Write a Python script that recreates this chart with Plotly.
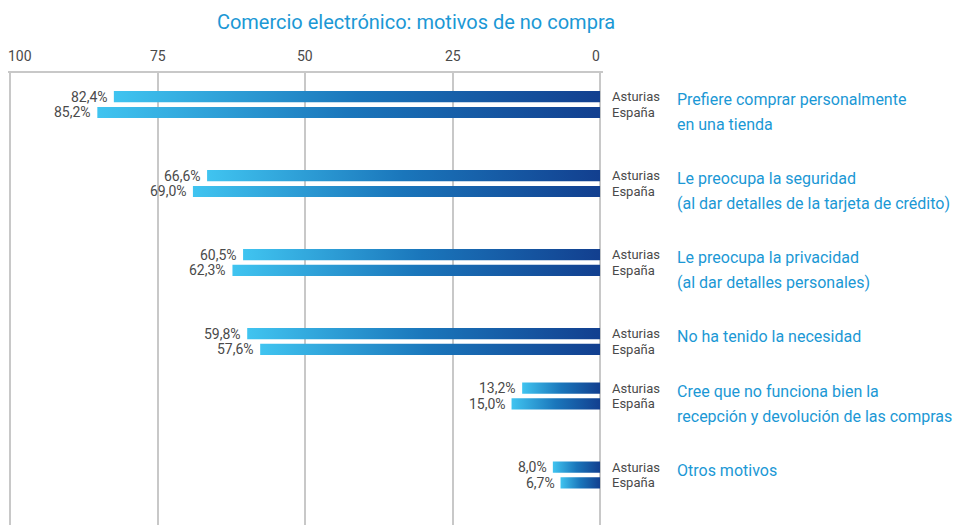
import plotly.graph_objects as go

# ---- data ----
categories = [
    "Prefiere comprar personalmente<br>en una tienda",
    "Le preocupa la seguridad<br>(al dar detalles de la tarjeta de crédito)",
    "Le preocupa la privacidad<br>(al dar detalles personales)",
    "No ha tenido la necesidad",
    "Cree que no funciona bien la<br>recepción y devolución de las compras",
    "Otros motivos",
]
series_names = ["Asturias", "España"]
asturias = [82.4, 66.6, 60.5, 59.8, 13.2, 8.0]
espana = [85.2, 69.0, 62.3, 57.6, 15.0, 6.7]
tick_vals = [100, 75, 50, 25, 0]
title = "Comercio electrónico: motivos de no compra"

# ---- layout constants ----
group_slot = [0, 1, 2, 3, 3.69, 4.69]   # vertical slot of each group
offset = 0.1                            # half distance between the two bars
half_h = 0.07                           # half bar height
LINE_STEP = 25                          # px between lines of a category label
FONT = "Roboto, sans-serif"
DARK = "#123f8f"
MID = "#1a76bb"
LIGHT = "#40c4f0"
BLUE_TXT = "#1b98d5"
GRAY_TXT = "#4a4a4a"
GRID = "#c8c8c8"

fig = go.Figure()
annotations = []

for i, cat in enumerate(categories):
    for s, (name, vals) in enumerate(zip(series_names, [asturias, espana])):
        v = vals[i]
        yc = group_slot[i] + (-offset if s == 0 else offset)
        y0, y1 = yc - half_h, yc + half_h
        fig.add_trace(go.Scatter(
            x=[0, v, v, 0, 0], y=[y0, y0, y1, y1, y0],
            mode="lines", fill="toself", line=dict(width=0),
            fillgradient=dict(type="horizontal",
                              colorscale=[[0, LIGHT], [0.5, MID], [1, DARK]]),
            hoverinfo="skip", showlegend=False,
        ))
        annotations.append(dict(
            x=v, y=yc, xref="x", yref="y", text=f"{v:.1f}".replace(".", ",") + "%",
            showarrow=False, xanchor="right", yanchor="middle", xshift=-4,
            font=dict(family=FONT, size=14, color=GRAY_TXT),
        ))
        annotations.append(dict(
            x=0, y=yc, xref="x", yref="y", text=name,
            showarrow=False, xanchor="left", yanchor="middle", xshift=10,
            font=dict(family=FONT, size=13, color=GRAY_TXT),
        ))
    for k, line in enumerate(cat.split("<br>")):
        annotations.append(dict(
            x=0, y=group_slot[i] - offset, xref="x", yref="y", text=line,
            showarrow=False, xanchor="left", yanchor="middle",
            yshift=-3 - LINE_STEP * k, xshift=75, align="left",
            font=dict(family=FONT, size=16, color=BLUE_TXT),
        ))

# axis tick labels (edge labels aligned inward, as in the reference)
for t in tick_vals:
    anchor = "left" if t == max(tick_vals) else ("right" if t == min(tick_vals) else "center")
    annotations.append(dict(
        x=t, y=1, xref="x", yref="paper", text=str(t), showarrow=False,
        xanchor=anchor, yanchor="bottom", yshift=7,
        xshift=-4 if anchor == "left" else (2 if anchor == "right" else 0),
        font=dict(family=FONT, size=14, color=GRAY_TXT),
    ))

fig.update_layout(
    width=954, height=517,
    margin=dict(l=0, r=359, t=65, b=0, autoexpand=False),
    paper_bgcolor="white", plot_bgcolor="white",
    title=dict(text=title, x=0.4277, xanchor="center", y=0.973, yanchor="middle",
               font=dict(family=FONT, size=20, color=BLUE_TXT)),
    xaxis=dict(range=[100.34, -0.5], side="top", tickvals=tick_vals,
               showticklabels=False, automargin=False,
               showgrid=True, gridcolor=GRID, gridwidth=2,
               showline=True, linecolor=GRID, linewidth=2,
               zeroline=False, ticks=""),
    yaxis=dict(range=[5.323, -0.399], showticklabels=False, showgrid=False,
               zeroline=False, showline=False, automargin=False),
    annotations=annotations,
)

fig.write_html("out.html")
